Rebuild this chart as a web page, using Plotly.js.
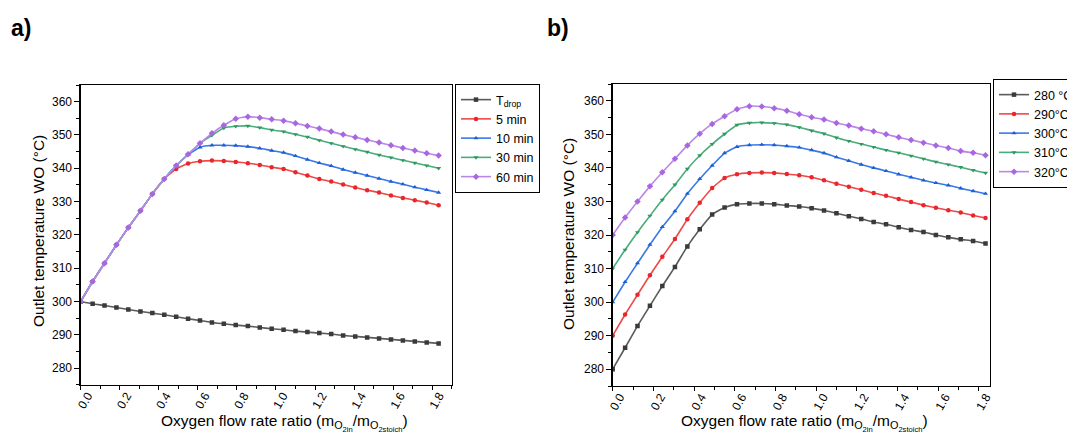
<!DOCTYPE html>
<html>
<head>
<meta charset="utf-8">
<script src="https://cdn.plot.ly/plotly-3.0.1.min.js"></script>
<style>html,body{margin:0;padding:0;background:#fff;}#chart{width:1067px;height:435px;}</style>
</head>
<body>
<div id="chart"></div>
<script>
// ---- data ----
const xRatio = [0, 0.061, 0.122, 0.183, 0.244, 0.306, 0.367, 0.428, 0.489, 0.55, 0.611, 0.672, 0.733, 0.794, 0.856, 0.917, 0.978, 1.039, 1.1, 1.161, 1.222, 1.283, 1.344, 1.406, 1.467, 1.528, 1.589, 1.65, 1.711, 1.772, 1.833];

// panel a)
const namesA = ["T<sub>drop</sub>", "5 min", "10 min", "30 min", "60 min"];
const tDrop = [300, 299.3, 298.8, 298.2, 297.6, 297.0, 296.5, 296.0, 295.4, 294.8, 294.3, 293.7, 293.3, 292.9, 292.6, 292.2, 291.8, 291.5, 291.1, 290.8, 290.5, 290.2, 289.8, 289.5, 289.2, 288.9, 288.6, 288.3, 288.0, 287.7, 287.4];
const t5min = [300, 306.0, 311.5, 317.0, 322.2, 327.2, 332.3, 336.8, 339.8, 341.4, 342.1, 342.3, 342.2, 341.9, 341.5, 341.0, 340.3, 339.8, 338.8, 337.8, 336.8, 336.0, 335.1, 334.2, 333.4, 332.7, 331.8, 331.1, 330.4, 329.7, 328.9];
const t10min = [300, 306.0, 311.5, 317.0, 322.2, 327.2, 332.3, 336.8, 340.8, 344.0, 346.3, 346.9, 346.9, 346.8, 346.5, 346.0, 345.3, 344.7, 343.7, 342.6, 341.6, 340.7, 339.6, 338.7, 337.8, 336.9, 336.0, 335.2, 334.3, 333.5, 332.7];
const t30min = [300, 306.0, 311.5, 317.0, 322.2, 327.2, 332.3, 336.8, 340.8, 344.2, 347.5, 349.9, 352.1, 352.6, 352.7, 352.2, 351.5, 351.0, 350.2, 349.4, 348.4, 347.5, 346.6, 345.7, 344.9, 344.0, 343.2, 342.4, 341.6, 340.8, 340.0];
const t60min = [300, 306.0, 311.5, 317.0, 322.2, 327.2, 332.3, 336.8, 340.8, 344.2, 347.5, 350.5, 352.9, 354.9, 355.5, 355.2, 354.7, 354.3, 353.5, 352.7, 351.9, 351.0, 350.1, 349.3, 348.5, 347.7, 346.9, 346.1, 345.3, 344.5, 343.8];

// panel b)
const namesB = ["280 °C", "290°C", "300°C", "310°C", "320°C"];
const t280 = [280, 286.4, 292.9, 298.9, 304.8, 310.5, 316.6, 321.7, 326.1, 328.2, 329.2, 329.4, 329.4, 329.2, 328.8, 328.5, 328.0, 327.3, 326.5, 325.6, 324.8, 323.9, 323.2, 322.3, 321.5, 320.9, 320.0, 319.3, 318.7, 318.2, 317.5];
const t290 = [290, 296.3, 302.2, 308.0, 313.5, 318.8, 324.7, 329.6, 334.0, 337.0, 338.1, 338.5, 338.6, 338.5, 338.2, 337.8, 337.2, 336.3, 335.3, 334.4, 333.5, 332.5, 331.7, 330.7, 329.8, 328.9, 328.1, 327.4, 326.7, 325.8, 325.1];
const t300 = [300, 306.0, 311.6, 317.1, 322.4, 327.1, 332.3, 336.7, 340.7, 344.4, 346.3, 346.8, 346.9, 346.8, 346.5, 346.1, 345.3, 344.4, 343.2, 342.1, 341.0, 340.0, 339.1, 338.1, 337.2, 336.3, 335.5, 334.8, 333.9, 333.1, 332.3];
const t310 = [310, 315.6, 320.8, 325.7, 330.5, 335.0, 339.7, 343.7, 347.1, 350.1, 352.8, 353.4, 353.5, 353.3, 352.9, 352.1, 351.1, 350.2, 349.0, 348.0, 347.1, 346.2, 345.3, 344.5, 343.6, 342.7, 341.8, 341.0, 340.2, 339.3, 338.5];
const t320 = [320, 325.2, 330.0, 334.5, 338.7, 342.7, 346.7, 350.2, 353.1, 355.4, 357.5, 358.4, 358.3, 357.8, 357.0, 356.0, 355.1, 354.4, 353.4, 352.6, 351.7, 350.9, 350.0, 349.1, 348.3, 347.5, 346.7, 345.9, 345.0, 344.5, 343.8];

const yTickVals = [280, 290, 300, 310, 320, 330, 340, 350, 360];
const xTickVals = [0, 0.2, 0.4, 0.6, 0.8, 1.0, 1.2, 1.4, 1.6, 1.8];
const xTitle = "Oxygen flow rate ratio (m<sub>O<sub>2in</sub></sub>/m<sub>O<sub>2stoich</sub></sub>)";
const yTitle = "Outlet temperature WO (°C)";

// ---- styles ----
const lineColors = ["#5a5a5a", "#f04848", "#3a78e6", "#4aab7c", "#bb88ea"];
const markColors = ["#3a3a3a", "#e8262b", "#1a5fd8", "#2f9a5e", "#a866e0"];
const symbols = ["square", "circle", "triangle-up", "triangle-down", "diamond"];
const FONT = "Liberation Sans, Arial, sans-serif";

function mk(y, i, name, xa, ya, leg) {
  return {
    x: xRatio, y: y, name: name, type: "scatter", mode: "lines+markers",
    xaxis: xa, yaxis: ya, legend: leg,
    line: {color: lineColors[i], width: 1.6, shape: "spline", smoothing: 0.4},
    marker: {color: markColors[i], symbol: symbols[i], size: i === 4 ? 5 : 4.5}
  };
}
const seriesA = [tDrop, t5min, t10min, t30min, t60min];
const seriesB = [t280, t290, t300, t310, t320];
const traces = [];
seriesA.forEach((s, i) => traces.push(mk(s, i, namesA[i], "x", "y", "legend")));
seriesB.forEach((s, i) => traces.push(mk(s, i, namesB[i], "x2", "y2", "legend2")));

function xax(domain, range, anchor) {
  return {
    domain: domain, range: range, anchor: anchor,
    tickmode: "array", tickvals: xTickVals, ticktext: xTickVals.map(v => v.toFixed(1)),
    tickangle: -60, ticklabelshift: 7, ticklabelstandoff: -6,
    ticks: "outside", ticklen: 4, tickwidth: 1, tickcolor: "#000",
    minor: {dtick: 0.1, tick0: 0, ticks: "outside", ticklen: 3, tickcolor: "#000"},
    showline: true, linecolor: "#000", linewidth: 1.3, mirror: true,
    showgrid: false, zeroline: false,
    tickfont: {family: FONT, size: 12, color: "#000"}
  };
}
function yax(domain, anchor) {
  return {
    domain: domain, range: [275, 365], anchor: anchor,
    tickmode: "array", tickvals: yTickVals,
    ticks: "outside", ticklen: 5, tickwidth: 1, tickcolor: "#000",
    minor: {dtick: 5, tick0: 275, ticks: "outside", ticklen: 3, tickcolor: "#000"},
    showline: true, linecolor: "#000", linewidth: 1.3, mirror: true,
    showgrid: false, zeroline: false,
    tickfont: {family: FONT, size: 12, color: "#000"}
  };
}
const W = 1067, H = 435;
const legStyle = {
  xanchor: "left", yanchor: "top", bgcolor: "#fff", bordercolor: "#000", borderwidth: 1,
  font: {family: FONT, size: 12.5, color: "#000"}, itemwidth: 30, tracegroupgap: 0
};
const layout = {
  width: W, height: H, paper_bgcolor: "#fff", plot_bgcolor: "#fff",
  margin: {l: 0, r: 0, t: 0, b: 0, autoexpand: false},
  font: {family: FONT, color: "#000"},
  xaxis: xax([80.7 / W, 451.7 / W], [0, 1.9], "y"),
  yaxis: yax([1 - 384.7 / H, 1 - 85 / H], "x"),
  xaxis2: xax([612.7 / W, 990 / W], [0, 1.855], "y2"),
  yaxis2: yax([1 - 386 / H, 1 - 84 / H], "x2"),
  legend: Object.assign({x: 455 / W, y: 1 - 84 / H}, legStyle),
  legend2: Object.assign({x: 993 / W, y: 1 - 79 / H}, legStyle),
  annotations: [
    {text: "<b>a)</b>", x: 9 / W, y: 1 - 28 / H, xref: "paper", yref: "paper", xanchor: "left", yanchor: "middle", showarrow: false, font: {family: FONT, size: 23, color: "#000"}},
    {text: "<b>b)</b>", x: 545 / W, y: 1 - 28 / H, xref: "paper", yref: "paper", xanchor: "left", yanchor: "middle", showarrow: false, font: {family: FONT, size: 23, color: "#000"}},
    {text: yTitle, x: 39 / W, y: 1 - 231 / H, xref: "paper", yref: "paper", xanchor: "center", yanchor: "middle", textangle: -90, showarrow: false, font: {family: FONT, size: 15.5, color: "#000"}},
    {text: yTitle, x: 569 / W, y: 1 - 234 / H, xref: "paper", yref: "paper", xanchor: "center", yanchor: "middle", textangle: -90, showarrow: false, font: {family: FONT, size: 15.5, color: "#000"}},
    {text: xTitle, x: 159 / W, y: 1 - 423 / H, xref: "paper", yref: "paper", xanchor: "left", yanchor: "middle", showarrow: false, font: {family: FONT, size: 15.5, color: "#000"}},
    {text: xTitle, x: 679 / W, y: 1 - 423 / H, xref: "paper", yref: "paper", xanchor: "left", yanchor: "middle", showarrow: false, font: {family: FONT, size: 15.5, color: "#000"}}
  ]
};
Plotly.newPlot("chart", traces, layout, {displayModeBar: false, staticPlot: true});
</script>
</body>
</html>
